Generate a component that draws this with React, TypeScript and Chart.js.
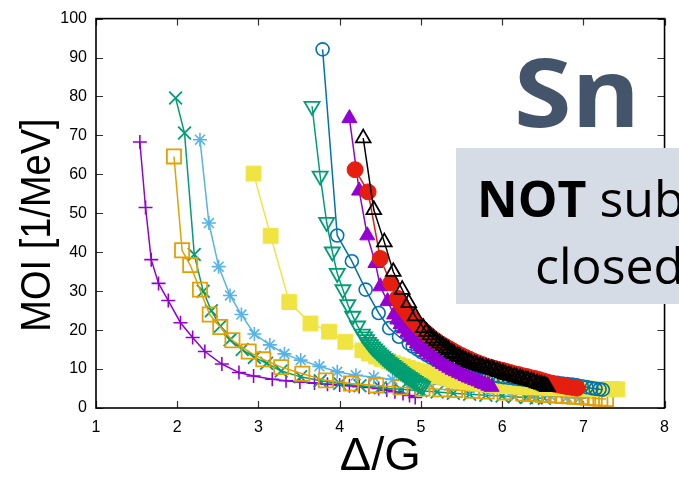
import React, { useEffect, useRef } from 'react';
import { Chart, registerables } from 'chart.js';

Chart.register(...registerables);

// ---- data ----
const plusX = [1.54, 1.61, 1.68, 1.77, 1.89, 2.04, 2.19, 2.34, 2.55, 2.76, 2.94, 3.17, 3.34, 3.51, 3.69, 3.85, 4.0, 4.12, 4.24, 4.36, 4.48, 4.58, 4.68, 4.78, 4.86, 4.93];
const plusY = [68.3, 51.5, 38.1, 32.0, 27.6, 21.9, 18.1, 14.5, 11.3, 9.1, 8.2, 7.4, 7.0, 6.7, 6.4, 6.1, 5.9, 5.7, 5.5, 5.3, 5.0, 4.6, 4.2, 3.7, 3.2, 2.7];

const crossX = [1.98, 2.09, 2.21, 2.32, 2.42, 2.53, 2.65, 2.8, 2.95, 3.1, 3.28, 3.52, 3.76, 4.0, 4.25, 4.5, 4.75, 5.0, 5.2, 5.4, 5.6, 5.8, 6.0, 6.15, 6.3, 6.42, 6.52];
const crossY = [79.6, 70.6, 39.4, 30.0, 25.0, 21.0, 17.5, 15.0, 13.0, 11.5, 9.5, 8.0, 7.0, 6.3, 5.7, 5.2, 4.8, 4.4, 4.1, 3.8, 3.5, 3.3, 3.1, 2.9, 2.7, 2.6, 2.5];

const starX = [2.28, 2.39, 2.51, 2.65, 2.79, 2.95, 3.14, 3.32, 3.52, 3.75, 3.97, 4.2, 4.42, 4.65, 4.88, 5.1, 5.35, 5.6, 5.85, 6.1, 6.35, 6.6, 6.8, 6.95];
const starY = [68.9, 47.5, 36.3, 28.9, 24.0, 19.0, 16.2, 13.9, 12.3, 10.7, 9.3, 8.4, 7.9, 7.3, 6.8, 6.3, 5.7, 5.0, 4.4, 3.9, 3.4, 3.0, 2.7, 2.5];

const boxX = [1.96, 2.06, 2.16, 2.28, 2.4, 2.53, 2.68, 2.88, 3.06, 3.28, 3.54, 3.83, 4.14, 4.45, 4.75, 5.02, 5.24, 5.42, 5.63, 5.81, 6.03, 6.26, 6.34, 6.42, 6.5, 6.58, 6.66, 6.74, 6.82, 6.9, 6.98, 7.06, 7.14, 7.21, 7.28];
const boxY = [64.6, 40.5, 36.7, 30.4, 24.0, 20.8, 17.4, 14.5, 12.5, 10.5, 8.8, 7.1, 6.3, 5.8, 5.3, 5.0, 4.8, 4.6, 4.4, 4.2, 4.0, 3.7, 3.6, 3.5, 3.4, 3.3, 3.2, 3.1, 3.0, 2.9, 2.8, 2.6, 2.5, 2.4, 2.3];

const fboxX = [2.94, 3.15, 3.38, 3.64, 3.87, 4.07, 4.28, 4.36, 4.45, 4.52, 4.6, 4.66, 4.72, 4.78, 4.84, 4.9, 4.95, 5.0, 5.06, 5.12, 5.17, 5.22, 5.28, 5.34, 5.4, 5.46, 5.52, 5.58, 5.64, 5.7, 5.76, 5.82, 5.88, 5.94, 6.0, 6.06, 6.12, 6.18, 6.24, 6.3, 6.36, 6.42, 6.48, 6.54, 6.6, 6.66, 6.72, 6.78, 6.84, 6.9, 6.96, 7.02, 7.08, 7.14, 7.2, 7.26, 7.32, 7.37, 7.42];
const fboxY = [60.2, 44.2, 27.2, 21.7, 19.6, 17.0, 14.8, 14.0, 13.2, 12.6, 12.0, 11.5, 11.1, 10.7, 10.3, 9.9, 9.6, 9.3, 9.0, 8.7, 8.5, 8.2, 8.0, 7.6, 7.2, 7.0, 6.8, 6.6, 6.5, 6.3, 6.2, 6.0, 5.9, 5.8, 5.7, 5.65, 5.6, 5.55, 5.5, 5.45, 5.4, 5.35, 5.3, 5.25, 5.2, 5.15, 5.1, 5.08, 5.05, 5.02, 5.0, 4.97, 4.95, 4.92, 4.9, 4.87, 4.85, 4.82, 4.8];

const circX = [3.79, 3.97, 4.15, 4.32, 4.48, 4.61, 4.73, 4.85, 4.9, 4.96, 5.01, 5.07, 5.12, 5.18, 5.24, 5.3, 5.36, 5.42, 5.48, 5.54, 5.6, 5.66, 5.72, 5.78, 5.84, 5.9, 5.96, 6.02, 6.08, 6.14, 6.2, 6.26, 6.32, 6.38, 6.44, 6.5, 6.56, 6.62, 6.68, 6.74, 6.8, 6.86, 6.92, 6.98, 7.04, 7.1, 7.15, 7.2, 7.24];
const circY = [92.1, 44.3, 37.7, 30.4, 24.4, 20.5, 18.3, 16.6, 15.8, 15.0, 14.3, 13.6, 13.0, 12.4, 11.8, 11.3, 10.9, 10.5, 10.1, 9.8, 9.5, 9.2, 8.9, 8.7, 8.5, 8.3, 8.1, 7.9, 7.75, 7.6, 7.45, 7.3, 7.15, 7.0, 6.9, 6.8, 6.7, 6.6, 6.45, 6.3, 6.15, 6.0, 5.8, 5.6, 5.35, 5.1, 4.95, 4.8, 4.7];

const dtriX = [3.66, 3.76, 3.84, 3.91, 3.97, 4.04, 4.1, 4.16, 4.22, 4.28, 4.305, 4.33, 4.355, 4.38, 4.405, 4.43, 4.455, 4.48, 4.505, 4.53, 4.555, 4.58, 4.605, 4.63, 4.655, 4.68, 4.705, 4.73, 4.755, 4.78, 4.805, 4.83, 4.855, 4.88, 4.905, 4.93, 4.955, 4.98, 5.0, 5.02];
const dtriY = [77.5, 59.6, 47.7, 40.1, 34.6, 30.4, 26.6, 23.6, 21.1, 19.0, 18.3, 17.6, 16.9, 16.3, 15.7, 15.2, 14.7, 14.2, 13.7, 13.2, 12.7, 12.3, 11.8, 11.4, 11.0, 10.6, 10.2, 9.8, 9.4, 9.0, 8.6, 8.3, 7.9, 7.6, 7.2, 6.9, 6.5, 6.2, 5.9, 5.6];

const ftriX = [4.12, 4.24, 4.34, 4.44, 4.5, 4.59, 4.67, 4.71, 4.75, 4.79, 4.83, 4.87, 4.91, 4.95, 4.99, 5.03, 5.07, 5.11, 5.15, 5.19, 5.23, 5.27, 5.31, 5.35, 5.39, 5.43, 5.47, 5.51, 5.55, 5.59, 5.63, 5.67, 5.71, 5.75, 5.79, 5.83, 5.87];
const ftriY = [74.4, 55.8, 44.3, 37.2, 31.2, 27.4, 24.0, 22.7, 21.5, 20.4, 19.3, 18.3, 17.4, 16.6, 15.8, 15.1, 14.4, 13.7, 13.1, 12.5, 11.9, 11.3, 10.8, 10.3, 9.8, 9.4, 9.0, 8.6, 8.2, 7.8, 7.5, 7.1, 6.8, 6.4, 6.1, 5.7, 5.4];

const dotX = [4.19, 4.35, 4.5, 4.63, 4.71, 4.75, 4.79, 4.83, 4.87, 4.91, 4.95, 4.99, 5.03, 5.07, 5.11, 5.15, 5.2, 5.25, 5.3, 5.35, 5.4, 5.45, 5.5, 5.55, 5.6, 5.65, 5.7, 5.75, 5.8, 5.85, 5.9, 5.95, 6.0, 6.05, 6.1, 6.15, 6.2, 6.25, 6.3, 6.35, 6.4, 6.45, 6.5, 6.55, 6.6, 6.65, 6.7, 6.75, 6.8, 6.86, 6.92];
const dotY = [61.2, 55.5, 38.4, 32.1, 28.2, 26.9, 25.6, 24.5, 23.4, 22.4, 21.5, 20.7, 19.9, 19.2, 18.5, 17.8, 17.1, 16.4, 15.8, 15.2, 14.6, 14.0, 13.5, 13.0, 12.5, 12.0, 11.6, 11.2, 10.8, 10.5, 10.2, 9.9, 9.7, 9.4, 9.1, 8.8, 8.6, 8.3, 8.1, 7.8, 7.6, 7.3, 7.0, 6.7, 6.4, 6.1, 5.9, 5.7, 5.5, 5.3, 5.1];

const utriX = [4.29, 4.42, 4.55, 4.66, 4.77, 4.85, 4.93, 5.03, 5.07, 5.11, 5.15, 5.19, 5.23, 5.27, 5.31, 5.34, 5.38, 5.41, 5.45, 5.48, 5.52, 5.55, 5.59, 5.62, 5.66, 5.69, 5.73, 5.76, 5.8, 5.83, 5.87, 5.9, 5.94, 5.97, 6.01, 6.04, 6.08, 6.11, 6.15, 6.18, 6.22, 6.25, 6.29, 6.32, 6.36, 6.39, 6.43, 6.46, 6.49, 6.52, 6.54, 6.56];
const utriY = [69.3, 50.9, 42.6, 35.0, 30.4, 27.0, 23.6, 20.6, 19.6, 18.7, 17.9, 17.2, 16.6, 16.0, 15.4, 14.9, 14.3, 13.9, 13.4, 13.1, 12.6, 12.3, 11.9, 11.6, 11.3, 11.1, 10.8, 10.6, 10.4, 10.2, 10.0, 9.8, 9.5, 9.3, 9.0, 8.8, 8.5, 8.3, 8.1, 7.9, 7.7, 7.5, 7.3, 7.1, 6.9, 6.7, 6.4, 6.2, 6.0, 5.8, 5.6, 5.4];

const xTitle = 'Δ/G';
const yTitle = 'MOI [1/MeV]';

const pts = (xs: number[], ys: number[]) => xs.map((x, i) => ({ x, y: ys[i] }));

const frame = {
  id: 'frame',
  beforeDatasetsDraw(chart: any) {
    const { ctx, chartArea, scales } = chart;
    const { left, right, top, bottom } = chartArea;
    ctx.save();
    ctx.strokeStyle = '#333';
    ctx.lineWidth = 1.2;
    ctx.beginPath();
    for (const t of scales.x.ticks) {
      const px = Math.round(scales.x.getPixelForValue(t.value)) + 0.5;
      ctx.moveTo(px, bottom); ctx.lineTo(px, bottom - 7);
      ctx.moveTo(px, top); ctx.lineTo(px, top + 7);
    }
    for (const t of scales.y.ticks) {
      const py = Math.round(scales.y.getPixelForValue(t.value)) + 0.5;
      ctx.moveTo(left, py); ctx.lineTo(left + 7, py);
      ctx.moveTo(right, py); ctx.lineTo(right - 7, py);
    }
    ctx.stroke();
    ctx.strokeStyle = '#000';
    ctx.lineWidth = 1.6;
    ctx.strokeRect(left, top, right - left, bottom - top);
    ctx.restore();
  },
  afterDraw(chart: any) {
    const { ctx } = chart;
    ctx.save();
    ctx.translate(50, 225);
    ctx.rotate(-Math.PI / 2);
    ctx.scale(1, 1.1);
    ctx.font = '38px "Liberation Sans", Arial, sans-serif';
    ctx.fillStyle = '#000';
    ctx.textAlign = 'center';
    ctx.textBaseline = 'alphabetic';
    ctx.fillText(yTitle, 0, 0);
    ctx.restore();
  },
};

export default function App() {
  const ref = useRef<HTMLCanvasElement>(null);
  useEffect(() => {
    document.body.style.margin = '0';
    const tickFont = { family: '"Liberation Sans", Arial, sans-serif', size: 16 };
    const mk = (xs: number[], ys: number[], color: string, style: string, r: number, filled: boolean, i: number, extra: any = {}) => ({
      data: pts(xs, ys),
      showLine: true,
      borderColor: color,
      borderWidth: 1.5,
      pointStyle: style,
      pointRadius: r,
      pointBorderColor: color,
      pointBackgroundColor: filled ? color : 'rgba(0,0,0,0)',
      pointBorderWidth: filled ? 1 : 1.8,
      order: 20 - i,
      ...extra,
    });
    const chart = new Chart(ref.current!, {
      type: 'scatter',
      data: {
        datasets: [
          mk(plusX, plusY, '#9400d3', 'cross', 7, false, 0, { pointBorderWidth: 1.6 }),
          mk(crossX, crossY, '#009e73', 'crossRot', 9, false, 1),
          mk(starX, starY, '#56b4e9', 'star', 7, false, 2, { pointBorderWidth: 1.6 }),
          mk(boxX, boxY, '#e69f00', 'rect', 10, false, 3),
          mk(fboxX, fboxY, '#f0e442', 'rect', 10.5, true, 4),
          mk(circX, circY, '#0072b2', 'circle', 6.5, false, 5, { pointBorderWidth: 1.6 }),
          mk(dtriX, dtriY, '#009e73', 'triangle', 8.7, false, 6, { pointRotation: 180 }),
          mk(ftriX, ftriY, '#9400d3', 'triangle', 8.7, true, 7),
          mk(dotX, dotY, '#e51e10', 'circle', 8, true, 8),
          mk(utriX, utriY, '#000000', 'triangle', 8.5, false, 9),
        ] as any,
      },
      options: {
        responsive: false,
        animation: false,
        layout: { padding: { top: 14, right: 11, left: 0, bottom: 0 } },
        plugins: { legend: { display: false }, tooltip: { enabled: false } },
        scales: {
          x: {
            type: 'linear', min: 1, max: 8,
            grid: { display: false, drawTicks: false },
            border: { display: false },
            ticks: { stepSize: 1, padding: 10, color: '#000', font: tickFont },
            title: { display: true, text: xTitle, color: '#000', font: { family: '"Liberation Sans", Arial, sans-serif', size: 47 }, padding: { top: 0, bottom: 0 } },
            afterFit(s: any) { s.height = 77; },
          },
          y: {
            type: 'linear', min: 0, max: 100,
            grid: { display: false, drawTicks: false },
            border: { display: false },
            ticks: { stepSize: 10, padding: 9, color: '#000', font: tickFont },
            afterFit(s: any) { s.width = 96; },
          },
        },
      } as any,
      plugins: [frame],
    });
    return () => chart.destroy();
  }, []);

  return (
    <div style={{ position: 'fixed', left: 0, top: 0, width: 679, height: 485, overflow: 'hidden', background: '#fff' }}>
      <canvas ref={ref} width={679} height={485} style={{ position: 'absolute', left: 0, top: 0, width: 679, height: 485 }} />
      <div style={{ position: 'absolute', left: 514, top: 43, font: 'bold 95px "Open Sans", sans-serif', lineHeight: '95px', color: '#44546a', whiteSpace: 'nowrap', transform: 'scaleX(1.1)', transformOrigin: '0 0' }}>Sn</div>
      <div style={{ position: 'absolute', left: 456, top: 148, width: 280, height: 156, background: '#d6dce5' }} />
      <div style={{ position: 'absolute', left: 477, top: 173, font: '50px "Open Sans", sans-serif', lineHeight: '50px', color: '#000', whiteSpace: 'nowrap' }}><b>NOT</b> subshell</div>
      <div style={{ position: 'absolute', left: 535, top: 240, font: '50px "Open Sans", sans-serif', lineHeight: '50px', color: '#000', whiteSpace: 'nowrap' }}>closed</div>
    </div>
  );
}
